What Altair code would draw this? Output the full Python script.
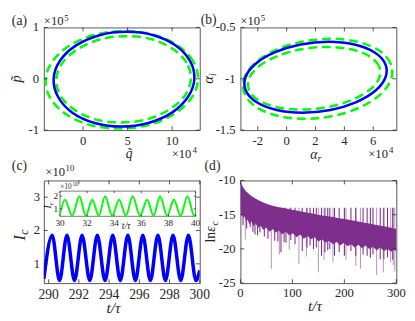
import altair as alt
import pandas as pd

FONT = "Liberation Serif"
INK = "#262626"
FRAME = "#555555"
BLUE = "#0000FF"
GREEN = "#00FF00"
PURPLE = "#7E2F8E"
W, H = 161, 106

# ---------------- data: panel (a) ----------------
a_xdom = [-4.4, 13.1]
a_ydom = [-1.0, 1.0]
a_xticks = [0, 5, 10]
a_yticks = [-1, 0, 1]
a_blue_q = [12.5, 12.0, 10.4, 7.9, 4.9, 1.86, -0.78, -2.59, -3.3, -2.81, -1.2, 1.3, 4.3, 7.34, 9.98, 11.79]
a_blue_p = [0.0, 0.35, 0.65, 0.85, 0.915, 0.85, 0.65, 0.35, 0.0, -0.35, -0.66, -0.86, -0.93, -0.86, -0.66, -0.35]
a_gout_q = [12.9, 12.36, 10.61, 7.9, 4.65, 1.36, -1.49, -3.44, -4.2, -3.66, -1.91, 0.8, 4.05, 7.34, 10.19, 12.14]
a_gout_p = [-0.02, 0.34, 0.65, 0.86, 0.93, 0.86, 0.65, 0.34, -0.02, -0.38, -0.69, -0.90, -0.97, -0.90, -0.69, -0.38]
a_gin_q = [12.1, 11.64, 10.1, 7.72, 4.85, 1.94, -0.58, -2.32, -3.0, -2.54, -1.0, 1.38, 4.25, 7.16, 9.68, 11.42]
a_gin_p = [-0.01, 0.31, 0.58, 0.77, 0.83, 0.77, 0.58, 0.31, -0.01, -0.33, -0.60, -0.79, -0.85, -0.79, -0.60, -0.33]

# ---------------- data: panel (b) ----------------
b_xdom = [-3.2, 7.6]
b_ydom = [-1.5, -0.5]
b_xticks = [-2, 0, 2, 4, 6]
b_yticks = [-1.5, -1.0, -0.5]
b_blue_r = [6.85, 6.83, 6.07, 4.69, 2.9, 0.975, -0.79, -2.14, -2.85, -2.82, -2.07, -0.69, 1.1, 3.03, 4.79, 6.14]
b_blue_i = [-0.985, -0.853, -0.741, -0.666, -0.64, -0.666, -0.741, -0.853, -0.985, -1.117, -1.229, -1.304, -1.33, -1.304, -1.229, -1.117]
b_gout_r = [7.25, 7.2, 6.4, 4.93, 3.05, 1.03, -0.82, -2.22, -2.95, -2.9, -2.1, -0.63, 1.25, 3.27, 5.12, 6.52]
b_gout_i = [-1.0, -0.851, -0.724, -0.64, -0.61, -0.64, -0.724, -0.851, -1.0, -1.149, -1.276, -1.36, -1.39, -1.36, -1.276, -1.149]
b_gin_r = [6.4, 6.4, 5.72, 4.45, 2.8, 1.01, -0.64, -1.92, -2.6, -2.6, -1.92, -0.65, 1.0, 2.79, 4.44, 5.72]
b_gin_i = [-0.995, -0.878, -0.779, -0.713, -0.69, -0.713, -0.779, -0.878, -0.995, -1.112, -1.211, -1.277, -1.30, -1.277, -1.211, -1.112]

# ---------------- data: panel (c) ----------------
c_xdom = [289.68, 300.0]
c_ydom = [0.42, 3.5]
c_xticks = [290, 292, 294, 296, 298, 300]
c_yticks = [1, 2, 3]
c_t = [289.68, 290.23, 290.72, 291.21, 291.71, 292.21, 292.72, 293.22, 293.73, 294.24,
       294.74, 295.24, 295.74, 296.23, 296.73, 297.23, 297.73, 298.23, 298.74, 299.25,
       299.75, 300.0]
c_I = [0.55, 1.86, 0.5, 1.86, 0.5, 1.86, 0.5, 1.86, 0.5, 1.86,
       0.5, 1.86, 0.5, 1.86, 0.5, 1.86, 0.5, 1.86, 0.5, 1.86,
       0.5, 0.8]
# inset
ci_xdom = [30, 40]
ci_ydom = [0.4, 2.4]
ci_xticks = [30, 32, 34, 36, 38, 40]
ci_yticks = [1, 2]
ci_t = [30.0, 30.36, 30.9, 31.43, 31.9, 32.38, 32.86, 33.33, 33.85, 34.36, 34.86,
        35.36, 35.9, 36.43, 36.9, 37.38, 37.9, 38.4, 38.9, 39.4, 39.9, 40.0]
ci_I = [0.6, 1.72, 0.45, 2.0, 0.45, 1.72, 0.45, 2.0, 0.45, 1.72, 0.45,
        2.0, 0.45, 1.72, 0.45, 2.0, 0.45, 1.72, 0.45, 2.0, 0.45, 0.55]

# ---------------- data: panel (d) ----------------
d_xdom = [0, 300]
d_ydom = [-25, -10]
d_xticks = [0, 100, 200, 300]
d_yticks = [-25, -20, -15, -10]
d_t = [0, 2, 4, 6, 8, 11, 14, 17, 21, 25, 29, 34, 39, 44, 50, 56, 62, 68, 74, 80,
       87, 94, 101, 108, 115, 122, 129, 136, 143, 150, 157, 164, 171, 178, 185, 192,
       199, 206, 213, 220, 227, 234, 241, 248, 255, 262, 269, 276, 283, 290, 296, 300]
d_upper = [-10.0, -10.5, -10.8, -11.1, -11.3, -11.6, -11.8, -12.0, -12.25, -12.45, -12.65,
           -12.85, -13.05, -13.2, -13.4, -13.55, -13.7, -13.8, -13.9, -14.0, -14.1, -14.2,
           -14.3, -14.4, -14.5, -14.6, -14.7, -14.8, -14.9, -15.0, -15.1, -15.2, -15.25,
           -15.35, -15.45, -15.55, -15.6, -15.7, -15.8, -15.9, -16.0, -16.1, -16.2, -16.3,
           -16.4, -16.5, -16.6, -16.7, -16.8, -16.9, -17.0, -17.1]
d_lower = [-14.2, -15.3, -14.9, -15.6, -15.2, -16.0, -15.7, -16.4, -16.0, -16.7, -16.3,
           -16.9, -16.6, -17.2, -16.9, -17.5, -17.1, -17.6, -17.3, -17.9, -17.5, -18.0,
           -17.7, -18.3, -17.9, -18.5, -18.1, -18.6, -18.3, -18.9, -18.6, -19.1, -18.8,
           -19.3, -19.0, -19.5, -19.1, -19.6, -19.3, -19.8, -19.4, -19.9, -19.5, -20.0,
           -19.7, -20.2, -19.8, -20.3, -20.0, -20.4, -20.1, -20.4]
d_light_t = [9.4, 59.5, 75, 94, 112.5, 127, 150, 161, 178, 203, 222, 231, 262, 275, 289, 294, 297]
d_light_lo = [-18.6, -22.9, -20.8, -20.1, -22.2, -21.1, -23.4, -21.6, -22.0, -21.6, -22.5,
              -22.9, -23.8, -23.4, -21.9, -22.4, -23.3]
d_dark_t = [5, 12, 18.8, 24, 28, 33, 37.5, 46, 53, 66, 72, 78, 84, 87.6, 97, 105, 119, 128,
            134, 140.6, 146, 156, 162.6, 168, 172, 181, 190, 200, 212.6, 222, 236, 243.8,
            250, 255, 269, 276, 283, 293]
d_dark_lo = [-16.5, -17.0, -16.8, -17.5, -17.9, -18.0, -17.6, -18.2, -18.5, -18.8, -18.9,
             -20.5, -19.0, -19.1, -18.7, -19.3, -20.3, -19.8, -19.5, -20.0, -19.8, -21.0,
             -20.5, -20.2, -20.0, -21.0, -20.5, -21.0, -20.3, -21.0, -20.8, -21.0, -21.3,
             -20.8, -21.5, -21.5, -21.2, -21.6]


# ---------------- helpers ----------------
def sc(dom, rng=None):
    if rng is None:
        return alt.Scale(domain=dom, nice=False, zero=False)
    return alt.Scale(domain=dom, range=rng, nice=False, zero=False)


def fmt(v):
    return ("%g" % v)


def frame(xs, ys, xt, yt, box=(0, W, 0, H), tl=4, xsize=13, ysize=13, xpad=5, ypad=5):
    """Tick labels (text) and inward tick marks on the four sides of a box."""
    x0, x1, y0, y1 = box
    dx = pd.DataFrame({"v": xt, "s": [fmt(v) for v in xt]})
    dy = pd.DataFrame({"v": yt, "s": [fmt(v) for v in yt]})
    m = dict(color=INK, strokeWidth=0.8)
    X = alt.X("v:Q", scale=xs, axis=None)
    Y = alt.Y("v:Q", scale=ys, axis=None)
    return [
        alt.Chart(dx).mark_rule(**m).encode(x=X, y=alt.value(y1), y2=alt.value(y1 - tl)),
        alt.Chart(dx).mark_rule(**m).encode(x=X, y=alt.value(y0), y2=alt.value(y0 + tl)),
        alt.Chart(dy).mark_rule(**m).encode(y=Y, x=alt.value(x0), x2=alt.value(x0 + tl)),
        alt.Chart(dy).mark_rule(**m).encode(y=Y, x=alt.value(x1), x2=alt.value(x1 - tl)),
        alt.Chart(dx).mark_text(font=FONT, fontSize=xsize, color=INK, align="center",
                                baseline="top").encode(x=X, y=alt.value(y1 + xpad), text="s:N"),
        alt.Chart(dy).mark_text(font=FONT, fontSize=ysize, color=INK, align="right",
                                baseline="middle").encode(y=Y, x=alt.value(x0 - ypad), text="s:N"),
    ]


def T(s, x, y, size=13, italic=False, angle=0, align="left", baseline="alphabetic"):
    return alt.Chart(pd.DataFrame({"s": [s]})).mark_text(
        font=FONT, fontSize=size, fontStyle="italic" if italic else "normal",
        angle=angle, align=align, baseline=baseline, color=INK
    ).encode(text="s:N", x=alt.value(x), y=alt.value(y))


def closed(xv, yv, xs, ys, color, dash=None, width=2.6):
    df = pd.DataFrame({"x": xv, "y": yv, "i": list(range(len(xv)))})
    kw = dict(color=color, strokeWidth=width, interpolate="cardinal-closed", clip=True)
    if dash:
        kw["strokeDash"] = dash
    return alt.Chart(df).mark_line(**kw).encode(
        x=alt.X("x:Q", scale=xs, axis=None), y=alt.Y("y:Q", scale=ys, axis=None),
        order="i:Q")


# ---------------- panel (a) ----------------
xs, ys = sc(a_xdom), sc(a_ydom)
pa = alt.layer(
    closed(a_gout_q, a_gout_p, xs, ys, GREEN, [9, 5]),
    closed(a_gin_q, a_gin_p, xs, ys, GREEN, [9, 5]),
    closed(a_blue_q, a_blue_p, xs, ys, BLUE),
    *frame(xs, ys, a_xticks, a_yticks),
    T("(a)", -33, -2.5, 14),
    T("\u00d710", 0, -2.5, 13), T("5", 21, -7, 9),
    T("p\u0303", -24, 53, 15, True, 270, "center"),
    T("q\u0303", 88, H + 29, 14, True, 0, "center"),
    T("\u00d710", 132, H + 29, 13), T("4", 153.5, H + 24, 9),
).properties(width=W, height=H)

# ---------------- panel (b) ----------------
xs, ys = sc(b_xdom), sc(b_ydom)
pb = alt.layer(
    closed(b_gout_r, b_gout_i, xs, ys, GREEN, [9, 5]),
    closed(b_gin_r, b_gin_i, xs, ys, GREEN, [9, 5]),
    closed(b_blue_r, b_blue_i, xs, ys, BLUE),
    *frame(xs, ys, b_xticks, b_yticks),
    T("(b)", -41, -3.5, 14),
    T("\u00d710", 0, -2.5, 13), T("5", 21, -7, 9),
    T("\u03b1", -28, 58, 15, True, 270, "left"), T("i", -25, 50, 10, True, 270, "left"),
    T("\u03b1", 72, H + 30, 14, True), T("r", 79.5, H + 33, 10, True),
    T("\u00d710", 132, H + 29, 13), T("4", 153.5, H + 24, 9),
).properties(width=W, height=H)

# ---------------- panel (c) ----------------
xs, ys = sc(c_xdom), sc(c_ydom)
c_df = pd.DataFrame({"t": c_t, "I": c_I})
main_c = alt.layer(
    alt.Chart(c_df).mark_line(color=BLUE, strokeWidth=3.6, interpolate="monotone", clip=True).encode(
        x=alt.X("t:Q", scale=xs, axis=None), y=alt.Y("I:Q", scale=ys, axis=None)),
    *frame(xs, ys, c_xticks, c_yticks, xsize=14, xpad=5, ypad=4),
)
IX0, IX1, IY0, IY1 = 16.7, 156.7, 11, 37
xsi, ysi = sc(ci_xdom, [IX0, IX1]), sc(ci_ydom, [IY1, IY0])
box_df = pd.DataFrame({"x": [ci_xdom[0]], "x2": [ci_xdom[1]], "y": [ci_ydom[0]], "y2": [ci_ydom[1]]})
ci_df = pd.DataFrame({"t": ci_t, "I": ci_I})
inset_c = alt.layer(
    alt.Chart(box_df).mark_rect(fill="white", stroke=FRAME, strokeWidth=0.8).encode(
        x=alt.X("x:Q", scale=xsi, axis=None), x2="x2:Q",
        y=alt.Y("y:Q", scale=ysi, axis=None), y2="y2:Q"),
    alt.Chart(ci_df).mark_line(color=GREEN, strokeWidth=2, interpolate="monotone", clip=True).encode(
        x=alt.X("t:Q", scale=xsi, axis=None), y=alt.Y("I:Q", scale=ysi, axis=None)),
    *frame(xsi, ysi, ci_xticks, ci_yticks, box=(IX0, IX1, IY0, IY1), tl=2,
           xsize=9.5, ysize=9.5, xpad=2, ypad=2),
)
pc = alt.layer(
    main_c, inset_c,
    T("(c)", -33, -11, 14),
    T("\u00d710", 1.5, -5, 13), T("10", 22.5, -10, 9),
    T("I", -19, 62, 17, True, 270, "left"), T("c", -16, 56, 12, True, 270, "left"),
    T("t/\u03c4", 72, H + 30.5, 16, True, 0, "center"),
    T("\u00d710", 17, 9, 7.5), T("10", 29.5, 6, 5.5),
    T("I", 7, 29, 10, True, 270, "left"), T("c", 9, 25.5, 7, True, 270, "left"),
    T("t/\u03c4", 85, 50, 10, True, 0, "center"),
).resolve_scale(x="independent", y="independent").properties(width=W, height=H)

# ---------------- panel (d) ----------------
xs, ys = sc(d_xdom), sc(d_ydom)
band = pd.DataFrame({"t": d_t, "up": d_upper, "lo": d_lower})
light = pd.DataFrame({"t": d_light_t, "lo": d_light_lo})
dark = pd.DataFrame({"t": d_dark_t, "lo": d_dark_lo})
pd_ = alt.layer(
    alt.Chart(light).mark_rule(color=PURPLE, strokeWidth=1.1, opacity=0.5, clip=True).encode(
        x=alt.X("t:Q", scale=xs, axis=None), y=alt.Y("lo:Q", scale=ys, axis=None), y2=alt.datum(-14)),
    alt.Chart(dark).mark_rule(color=PURPLE, strokeWidth=1.1, clip=True).encode(
        x=alt.X("t:Q", scale=xs, axis=None), y=alt.Y("lo:Q", scale=ys, axis=None), y2=alt.datum(-14)),
    alt.Chart(band).mark_area(color=PURPLE, opacity=1, clip=True).encode(
        x=alt.X("t:Q", scale=xs, axis=None), y=alt.Y("lo:Q", scale=ys, axis=None), y2="up:Q"),
    *frame(xs, ys, d_xticks, d_yticks, xpad=4),
    T("(d)", -37, -11, 14),
    T("ln", -26, 64, 14, False, 270, "left"), T("\u03b5", -26, 53, 14, True, 270, "left"),
    T("c", -23, 46.5, 10, True, 270, "left"),
    T("t/\u03c4", 77, H + 29, 16, True, 0, "center"),
).properties(width=W, height=H)

chart = alt.concat(
    pa, pb, pc, pd_, columns=2, spacing={"row": 52, "column": 42}, bounds="flush"
).configure_view(stroke=FRAME, strokeWidth=1).properties(padding=0, background="white")

chart.save("out.html", embed_options={"renderer": "svg", "actions": False})
